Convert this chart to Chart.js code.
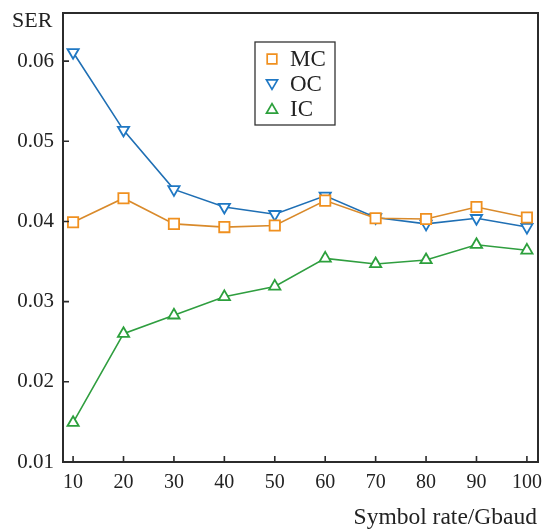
<!DOCTYPE html>
<html>
<head>
<meta charset="utf-8">
<script src="https://cdn.jsdelivr.net/npm/chart.js@4/dist/chart.umd.min.js"></script>
<style>
  html, body { margin: 0; padding: 0; background: #fff; }
  #wrap { width: 542px; height: 529px; position: relative; }
</style>
</head>
<body>
<div id="wrap"><canvas id="c" width="542" height="529"></canvas></div>
<script>
const rates = [10, 20, 30, 40, 50, 60, 70, 80, 90, 100];
const mcSer = [0.0399, 0.0429, 0.0397, 0.0393, 0.0395, 0.0426, 0.0404, 0.0403, 0.0418, 0.0405];
const ocSer = [0.0611, 0.0514, 0.0440, 0.0418, 0.0409, 0.0432, 0.0405, 0.0397, 0.0404, 0.0393];
const icSer = [0.0149, 0.0260, 0.0283, 0.0306, 0.0319, 0.0354, 0.0347, 0.0352, 0.0371, 0.0364];
const xTicks = [10, 20, 30, 40, 50, 60, 70, 80, 90, 100];
const yTicks = [0.01, 0.02, 0.03, 0.04, 0.05, 0.06];
const seriesNames = ['MC', 'OC', 'IC'];
const xTitle = 'Symbol rate/Gbaud';
const yTitle = 'SER';

const FONT = '"Liberation Serif", "DejaVu Serif", serif';
const AXIS = '#2b2b2b';

function pts(vals) { return rates.map((r, i) => ({ x: r, y: vals[i] })); }

const frame = {
  id: 'frame',
  afterDraw(chart) {
    const ctx = chart.ctx, a = chart.chartArea;
    const xs = chart.scales.x, ys = chart.scales.y;
    ctx.save();
    ctx.strokeStyle = AXIS;
    ctx.lineWidth = 2;
    ctx.strokeRect(a.left, a.top, a.right - a.left, a.bottom - a.top);
    ctx.lineWidth = 1.6;
    ctx.beginPath();
    xs.ticks.forEach((t, i) => {
      const px = xs.getPixelForTick(i);
      ctx.moveTo(px, a.bottom); ctx.lineTo(px, a.bottom - 6);
    });
    ys.ticks.forEach((t, i) => {
      const py = ys.getPixelForTick(i);
      ctx.moveTo(a.left, py); ctx.lineTo(a.left + 6, py);
    });
    ctx.stroke();
    // axis titles
    ctx.fillStyle = '#222';
    ctx.font = '22px ' + FONT;
    ctx.textBaseline = 'middle';
    ctx.textAlign = 'left';
    ctx.fillText(yTitle, 12, 21);
    ctx.font = '23.5px ' + FONT;
    ctx.textAlign = 'right';
    ctx.fillText(xTitle, 537, 518);
    // legend
    const lx = 255, ly = 42, lw = 80, lh = 83;
    ctx.fillStyle = '#fff';
    ctx.fillRect(lx, ly, lw, lh);
    ctx.strokeStyle = '#333';
    ctx.lineWidth = 1.3;
    ctx.strokeRect(lx, ly, lw, lh);
    const rowsY = [59, 84, 109];
    chart.data.datasets.forEach((ds, i) => {
      ctx.strokeStyle = ds.pointBorderColor;
      ctx.fillStyle = '#ffffff';
      ctx.lineWidth = 1.7;
      Chart.helpers.drawPoint(ctx, {
        pointStyle: ds.pointStyle, rotation: ds.pointRotation || 0,
        radius: ds.pointStyle === 'rect' ? 6.8 : 6.4, borderWidth: 1.7
      }, 272, rowsY[i] + (ds.pointStyle === 'triangle' ? (ds.pointRotation ? -1 : 1) : 0));
      ctx.fillStyle = '#222';
      ctx.font = '23px ' + FONT;
      ctx.textAlign = 'left';
      ctx.textBaseline = 'middle';
      ctx.fillText(ds.label, 290, rowsY[i] + 1);
    });
    ctx.restore();
  }
};

new Chart(document.getElementById('c'), {
  type: 'line',
  data: {
    datasets: [
      { label: seriesNames[0], data: pts(mcSer), borderColor: '#d98a2b', pointBorderColor: '#f0901f',
        pointBackgroundColor: '#ffffff', pointStyle: 'rect', pointRadius: 7.3, borderWidth: 1.6, pointBorderWidth: 1.8 },
      { label: seriesNames[1], data: pts(ocSer), borderColor: '#1f6fb4', pointBorderColor: '#1f78c4',
        pointBackgroundColor: '#ffffff', pointStyle: 'triangle', pointRotation: 180, pointRadius: 6.5, borderWidth: 1.6, pointBorderWidth: 1.8 },
      { label: seriesNames[2], data: pts(icSer), borderColor: '#2f9e3f', pointBorderColor: '#2ca03c',
        pointBackgroundColor: '#ffffff', pointStyle: 'triangle', pointRadius: 6.5, borderWidth: 1.6, pointBorderWidth: 1.8 }
    ]
  },
  options: {
    responsive: false,
    animation: false,
    devicePixelRatio: 1,
    layout: { autoPadding: false, padding: { top: 13, right: 4, left: 0, bottom: 0 } },
    plugins: { legend: { display: false }, tooltip: { enabled: false } },
    scales: {
      x: {
        type: 'linear', min: 8, max: 102.2,
        afterBuildTicks: s => { s.ticks = xTicks.map(v => ({ value: v })); },
        afterFit: s => { s.height = 67; s.paddingLeft = 0; s.paddingRight = 0; },
        grid: { display: false, drawTicks: false },
        border: { display: false },
        ticks: { color: '#222', font: { family: FONT, size: 20 }, padding: 9, maxRotation: 0, autoSkip: false,
          callback: v => String(v) }
      },
      y: {
        type: 'linear', min: 0.01, max: 0.066,
        afterBuildTicks: s => { s.ticks = yTicks.map(v => ({ value: v })); },
        afterFit: s => { s.width = 63; s.paddingTop = 0; s.paddingBottom = 0; },
        grid: { display: false, drawTicks: false },
        border: { display: false },
        ticks: { color: '#222', font: { family: FONT, size: 21 }, padding: 9,
          callback: v => v.toFixed(2) }
      }
    }
  },
  plugins: [frame]
});
</script>
</body>
</html>
